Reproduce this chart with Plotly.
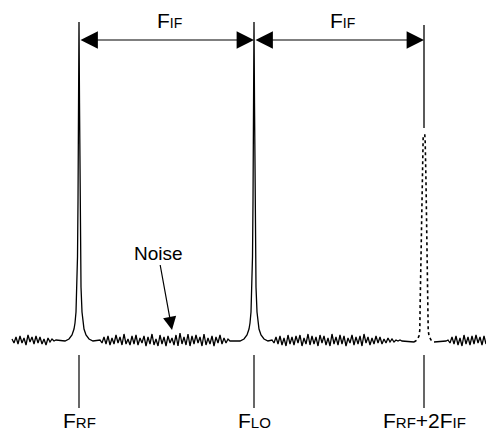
import numpy as np
import plotly.graph_objects as go

# ---- data (arbitrary frequency / amplitude units) ----
f_rf = 79.0
f_lo = 254.0
f_img = 424.0

# main peak profile: offset from centre frequency -> height above noise floor
peak_dx = [-14, -10, -7, -5, -4, -3, -2, -1.5, -1, -0.5, 0, 0.5, 1, 1.5, 2, 3, 4, 5, 7, 10, 14]
peak_h = [1, 3, 7, 13, 19, 30, 55, 85, 140, 240, 320, 240, 140, 85, 55, 30, 19, 13, 7, 3, 1]

# image (suppressed) peak profile, drawn dotted
img_dx = [-10, -7, -5, -4.2, -3.8, -3, -2, -1.2, -0.8, 0.8, 1.2, 2, 3, 3.8, 4.2, 5, 7, 10]
img_h = [0, 2, 6, 12, 40, 90, 160, 200, 207, 207, 200, 160, 90, 40, 12, 6, 2, 0]

# noise floor samples (read by eye), one per 2 frequency units
noise_a_start = 12
noise_a = [2, -2, 4, -3, 5, -2, 3, -4, 6, -1, 4, -3, 5, -2, 4, -3, 2, -4, 3, -1, 2, 0, 1]
noise_b_start = 100
noise_b = [1, -2, 4, -3, 5, -4, 3, -3, 6, -2, 4, -4, 7, -3, 2, -4, 5, -3, 6, -4, 3, -2, 5, -5, 4, -3,
           7, -4, 2, -5, 6, -3, 4, -5, 5, -2, 3, -4, 6, -5, 8, -3, 4, -4, 7, -5, 5, -3, 6, -2, 4, -5,
           7, -4, 3, -3, 5, -5, 4, -2, 6, -3, 3, -2, 2, 0]
noise_c_start = 272
noise_c = [1, -2, 4, -3, 5, -4, 3, -5, 6, -3, 4, -4, 5, -2, 6, -5, 3, -3, 7, -4, 5, -3, 4, -5, 6, -2,
           5, -4, 3, -5, 7, -3, 4, -4, 6, -3, 5, -5, 3, -2, 6, -4, 4, -3, 5, -5, 7, -2, 4, -4, 3, -3,
           5, -2, 4, -3, 2, -2, 3, -1, 2, -1, 1, 0, 1, 0]
noise_d_start = 446
noise_d = [0, 1, -2, 4, -3, 5, -4, 3, -5, 6, -3, 4, -4, 5, -3, 6, -2, 4, -4, 5, -3]
noise_step = 2.0

FONT = "Liberation Sans, Arial, Helvetica, sans-serif"


def noise_seg(start, vals):
    x = start + noise_step * np.arange(len(vals))
    return list(x), [v + 1 for v in vals]


def peak_seg(f0, dx, h):
    return [f0 + d for d in dx], list(h)


xa, ya = noise_seg(noise_a_start, noise_a)
xb, yb = noise_seg(noise_b_start, noise_b)
xc, yc = noise_seg(noise_c_start, noise_c)
xd, yd = noise_seg(noise_d_start, noise_d)
xp1, yp1 = peak_seg(f_rf, peak_dx, peak_h)
xp2, yp2 = peak_seg(f_lo, peak_dx, peak_h)
xi, yi = peak_seg(f_img, img_dx, img_h)

x1 = xa + xp1 + xb + xp2 + xc + [xi[0]]
y1 = ya + yp1 + yb + yp2 + yc + [0]
x2 = [xi[-1]] + xd
y2 = [0] + yd

fig = go.Figure()
line = dict(color="black", width=1.3)
fig.add_trace(go.Scatter(x=x1, y=y1, mode="lines", line=line, hoverinfo="skip"))
fig.add_trace(go.Scatter(x=x2, y=y2, mode="lines", line=line, hoverinfo="skip"))
fig.add_trace(go.Scatter(x=xi, y=yi, mode="lines",
                         line=dict(color="black", width=1.6, dash="dot"), hoverinfo="skip"))

# marker lines below the spectrum
for f in (f_rf, f_lo, f_img):
    fig.add_shape(type="line", x0=f, x1=f, y0=-13, y1=-66, line=dict(color="black", width=1.2))
# upper continuation of image frequency line
fig.add_shape(type="line", x0=f_img, x1=f_img, y0=317, y1=214, line=dict(color="black", width=1.3))

# double-headed F_IF arrows
for a, b in ((f_rf, f_lo), (f_lo, f_img)):
    fig.add_annotation(x=b, y=302, ax=a, ay=302, axref="x", ayref="y", xref="x", yref="y",
                       text="", showarrow=True, arrowside="end+start",
                       arrowhead=2, startarrowhead=2, arrowsize=2.9, startarrowsize=2.9,
                       arrowwidth=1.2, arrowcolor="black", standoff=0, startstandoff=0)
    fig.add_annotation(x=(a + b) / 2 + 3, y=322, xref="x", yref="y", showarrow=False,
                       text="F<span style='font-size:14px'>IF</span>",
                       font=dict(family=FONT, size=21, color="black"))

labels = ["F<span style='font-size:15px'>RF</span>",
          "F<span style='font-size:15px'>LO</span>",
          "F<span style='font-size:15px'>RF</span>+2F<span style='font-size:15px'>IF</span>"]
for f, t in zip((f_rf, f_lo, f_img), labels):
    fig.add_annotation(x=f, y=-78, xref="x", yref="y", showarrow=False, text=t,
                       font=dict(family=FONT, size=21, color="black"))

# Noise label with arrow
fig.add_annotation(x=172, y=12, ax=158, ay=89, axref="x", ayref="y", xref="x", yref="y",
                   text="Noise", showarrow=True, arrowhead=2, arrowsize=2.2, arrowwidth=1.2,
                   arrowcolor="black", standoff=0,
                   font=dict(family=FONT, size=19, color="black"))

fig.update_layout(
    width=486, height=435,
    margin=dict(l=0, r=0, t=0, b=0),
    paper_bgcolor="white", plot_bgcolor="white",
    showlegend=False,
    xaxis=dict(range=[0, 486], visible=False, fixedrange=True),
    yaxis=dict(range=[-93, 342], visible=False, fixedrange=True),
)

fig.write_html("out.html", config={"displayModeBar": False},
               post_script="document.body.style.margin='0';document.body.style.overflow='hidden';")
